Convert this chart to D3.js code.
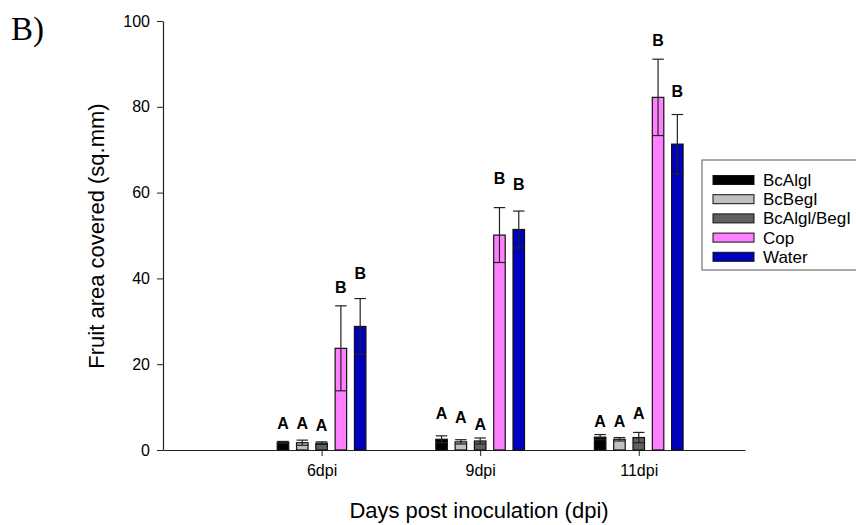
<!DOCTYPE html>
<html>
<head>
<meta charset="utf-8">
<script src="https://cdn.jsdelivr.net/npm/d3@7"></script>
<style>
  html, body { margin: 0; padding: 0; background: #fff; }
  svg { display: block; }
  text { font-family: "Liberation Sans", Arial, sans-serif; fill: #000; }
</style>
</head>
<body>
<svg id="chart" width="856" height="525"></svg>
<script>
// Days post inoculation groups and treatments
const days = ["6dpi", "9dpi", "11dpi"];
const treatments = ["BcAlgl", "BcBegI", "BcAlgl/BegI", "Cop", "Water"];
const colors = ["#000000", "#c0c0c0", "#606060", "#ff80ff", "#0000c0"];

// Mean fruit area covered (sq.mm), one array per treatment, in day order
const bcAlgl      = [1.8, 2.5, 3.0];
const bcBegI      = [1.7, 1.9, 2.5];
const bcAlglBegI  = [1.6, 2.1, 2.9];
const cop         = [23.7, 50.1, 82.2];
const water       = [28.8, 51.4, 71.3];

// Standard errors
const bcAlglErr     = [0.2, 0.8, 0.6];
const bcBegIErr     = [0.6, 0.5, 0.4];
const bcAlglBegIErr = [0.3, 0.7, 1.2];
const copErr        = [9.9, 6.4, 8.9];
const waterErr      = [6.5, 4.3, 6.9];

// Significance letters and the level (sq.mm) each is written at
const letters = [
  ["A", "A", "A", "B", "B"],
  ["A", "A", "A", "B", "B"],
  ["A", "A", "A", "B", "B"]
];
const letterLevel = [
  [6.3, 6.3, 5.8, 38.0, 41.3],
  [8.6, 7.7, 6.1, 63.4, 62.0],
  [6.8, 6.8, 8.6, 95.6, 83.7]
];

const yTicks = [0, 20, 40, 60, 80, 100];

const means = [bcAlgl, bcBegI, bcAlglBegI, cop, water];
const errs = [bcAlglErr, bcBegIErr, bcAlglBegIErr, copErr, waterErr];

const svg = d3.select("#chart");

const plotLeft = 163, plotRight = 745, plotTop = 21, plotBottom = 450;

const y = d3.scaleLinear().domain([0, 100]).range([plotBottom, plotTop]);
// Day groups sit at positions 1, 2, 3 along a continuous x axis
const x = d3.scaleLinear().domain([0, 3.67]).range([plotLeft, plotRight]);
const dayPos = d => days.indexOf(d) + 1;
const xi = d3.scalePoint().domain(treatments).range([-38.6, 38.6]);
const barW = 11.5;

// Panel tag
svg.append("text")
  .attr("x", 11).attr("y", 40)
  .style("font-family", "'Liberation Serif', 'Times New Roman', serif")
  .style("font-size", "33px")
  .text("B)");

// Y axis
const yAxis = d3.axisLeft(y).tickValues(yTicks).tickSize(6).tickPadding(7).tickSizeOuter(0);
const gy = svg.append("g").attr("transform", `translate(${plotLeft},0)`).call(yAxis);
gy.select(".domain").attr("stroke", "#222").attr("stroke-width", 1.2);
gy.selectAll(".tick line").attr("stroke", "#222");
gy.selectAll(".tick text").style("font-size", "16px").style("font-family", "'Liberation Sans', Arial, sans-serif").attr("fill", "#000");

// X axis
const xAxis = d3.axisBottom(x).tickValues([1, 2, 3]).tickFormat(v => days[v - 1])
  .tickSize(6).tickPadding(9).tickSizeOuter(0);
const gx = svg.append("g").attr("transform", `translate(0,${plotBottom})`).call(xAxis);
gx.select(".domain").attr("stroke", "#222").attr("stroke-width", 1.2);
gx.selectAll(".tick line").attr("stroke", "#222");
gx.selectAll(".tick text").style("font-size", "16px").style("font-family", "'Liberation Sans', Arial, sans-serif").attr("fill", "#000");

// Axis titles
svg.append("text")
  .attr("x", 479).attr("y", 518)
  .attr("text-anchor", "middle")
  .style("font-size", "22px")
  .text("Days post inoculation (dpi)");

svg.append("text")
  .attr("transform", `translate(104,236) rotate(-90)`)
  .attr("text-anchor", "middle")
  .style("font-size", "22px")
  .text("Fruit area covered (sq.mm)");

// Bars, error bars and letters
const rows = [];
days.forEach((d, di) => {
  treatments.forEach((t, ti) => {
    rows.push({ day: d, di, t, ti, v: means[ti][di], e: errs[ti][di],
                letter: letters[di][ti], lv: letterLevel[di][ti] });
  });
});
const cx = r => x(dayPos(r.day)) + xi(r.t);

const plot = svg.append("g");

plot.selectAll("rect.bar").data(rows).join("rect")
  .attr("class", "bar")
  .attr("x", r => cx(r) - barW / 2)
  .attr("y", r => y(r.v))
  .attr("width", barW)
  .attr("height", r => y(0) - y(r.v))
  .attr("fill", r => colors[r.ti])
  .attr("stroke", "#111")
  .attr("stroke-width", 1.2);

const eb = plot.selectAll("g.err").data(rows).join("g").attr("class", "err")
  .attr("stroke", "#222").attr("stroke-width", 1.2);
eb.append("line")
  .attr("x1", cx).attr("x2", cx)
  .attr("y1", r => y(r.v - r.e)).attr("y2", r => y(r.v + r.e));
eb.append("line")
  .attr("x1", r => cx(r) - barW / 2).attr("x2", r => cx(r) + barW / 2)
  .attr("y1", r => y(r.v + r.e)).attr("y2", r => y(r.v + r.e));
eb.append("line")
  .attr("x1", r => cx(r) - barW / 2).attr("x2", r => cx(r) + barW / 2)
  .attr("y1", r => y(r.v - r.e)).attr("y2", r => y(r.v - r.e));

plot.selectAll("text.sig").data(rows).join("text")
  .attr("class", "sig")
  .attr("x", cx)
  .attr("y", r => y(r.lv))
  .attr("dy", "0.36em")
  .attr("text-anchor", "middle")
  .style("font-size", "16px")
  .style("font-weight", "bold")
  .text(r => r.letter);

// Legend
const lg = svg.append("g");
lg.append("rect")
  .attr("x", 702).attr("y", 160).attr("width", 170).attr("height", 110)
  .attr("fill", "#fff").attr("stroke", "#555").attr("stroke-width", 1);
treatments.forEach((t, i) => {
  const ly = 180 + i * 19.2;
  lg.append("rect")
    .attr("x", 713).attr("y", ly - 4.5).attr("width", 41).attr("height", 9)
    .attr("fill", colors[i]).attr("stroke", "#111").attr("stroke-width", 1);
  lg.append("text")
    .attr("x", 763).attr("y", ly).attr("dy", "0.35em")
    .style("font-size", "17px")
    .text(t);
});
</script>
</body>
</html>
